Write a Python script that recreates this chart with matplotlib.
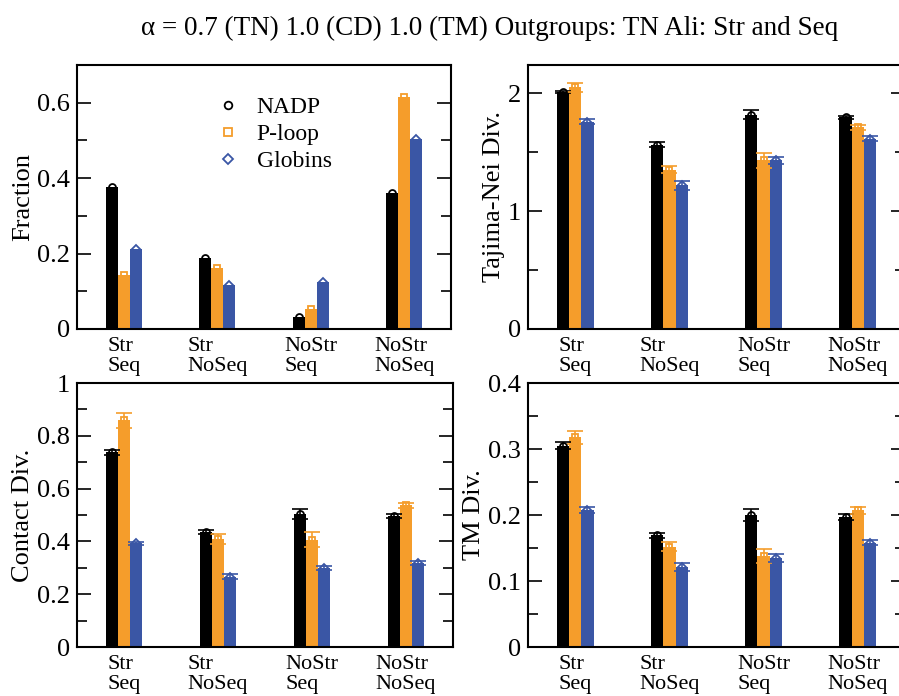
import matplotlib
matplotlib.use("Agg")
import matplotlib.pyplot as plt
import numpy as np
from matplotlib.ticker import MultipleLocator

plt.rcParams['font.family'] = ['Liberation Serif', 'DejaVu Serif']
plt.rcParams['mathtext.fontset'] = 'stix'

categories = ["Str\nSeq", "Str\nNoSeq", "NoStr\nSeq", "NoStr\nNoSeq"]
series = ["NADP", "P-loop", "Globins"]
colors = ["#000000", "#F59D2B", "#3A56A5"]
markers = ["o", "s", "D"]

# Fraction
frac_nadp = [0.376, 0.188, 0.032, 0.360]
frac_ploop = [0.143, 0.161, 0.052, 0.616]
frac_glob = [0.212, 0.117, 0.125, 0.505]

# Tajima-Nei Div.
tn_nadp = [2.01, 1.565, 1.82, 1.795]
tn_nadp_err = [0.01, 0.02, 0.04, 0.015]
tn_ploop = [2.05, 1.35, 1.43, 1.71]
tn_ploop_err = [0.04, 0.03, 0.06, 0.025]
tn_glob = [1.76, 1.22, 1.43, 1.615]
tn_glob_err = [0.02, 0.04, 0.03, 0.02]

# Contact Div.
cd_nadp = [0.737, 0.435, 0.504, 0.497]
cd_nadp_err = [0.011, 0.007, 0.018, 0.007]
cd_ploop = [0.858, 0.41, 0.407, 0.536]
cd_ploop_err = [0.03, 0.018, 0.027, 0.011]
cd_glob = [0.393, 0.267, 0.30, 0.318]
cd_glob_err = [0.006, 0.01, 0.008, 0.007]

# TM Div.
tm_nadp = [0.305, 0.169, 0.2005, 0.197]
tm_nadp_err = [0.005, 0.004, 0.009, 0.004]
tm_ploop = [0.318, 0.152, 0.138, 0.207]
tm_ploop_err = [0.01, 0.007, 0.011, 0.0055]
tm_glob = [0.2075, 0.1215, 0.135, 0.158]
tm_glob_err = [0.004, 0.006, 0.006, 0.004]

title = "α = 0.7 (TN) 1.0 (CD) 1.0 (TM) Outgroups: TN Ali: Str and Seq"

W, H = 899, 696
fig = plt.figure(figsize=(W / 100, H / 100), dpi=100)

def ax_rect(x0, x1, ytop, ybot):
    return [x0 / W, 1 - ybot / H, (x1 - x0) / W, (ybot - ytop) / H]

panels = [
    dict(rect=ax_rect(77, 451, 65, 329), ylabel="Fraction", ylim=(0, 0.7), major=0.2, minor=0.1,
         vals=[frac_nadp, frac_ploop, frac_glob], errs=None, fmt=lambda v: "0" if v == 0 else f"{v:.1f}"),
    dict(rect=ax_rect(528, 905, 65, 329), ylabel="Tajima-Nei Div.", ylim=(0, 2.24), major=1, minor=0.5,
         vals=[tn_nadp, tn_ploop, tn_glob], errs=[tn_nadp_err, tn_ploop_err, tn_glob_err],
         fmt=lambda v: f"{v:.0f}"),
    dict(rect=ax_rect(77, 453, 383, 647), ylabel="Contact Div.", ylim=(0, 1.0), major=0.2, minor=0.1,
         vals=[cd_nadp, cd_ploop, cd_glob], errs=[cd_nadp_err, cd_ploop_err, cd_glob_err],
         fmt=lambda v: "0" if v == 0 else ("1" if abs(v - 1) < 1e-9 else f"{v:.1f}")),
    dict(rect=ax_rect(528, 905, 383, 647), ylabel="TM Div.", ylim=(0, 0.4), major=0.1, minor=0.05,
         vals=[tm_nadp, tm_ploop, tm_glob], errs=[tm_nadp_err, tm_ploop_err, tm_glob_err],
         fmt=lambda v: "0" if v == 0 else f"{v:.1f}"),
]

x = np.arange(1, len(categories) + 1)
bw = 0.13
for i, p in enumerate(panels):
    ax = fig.add_axes(p["rect"])
    for k in range(3):
        xs = x + (k - 1) * bw
        ax.bar(xs, p["vals"][k], width=bw, color=colors[k], zorder=2)
        if p["errs"] is not None:
            ax.errorbar(xs, p["vals"][k], yerr=p["errs"][k], fmt="none", ecolor=colors[k],
                        elinewidth=1.2, capsize=5.5, capthick=1.2, zorder=3)
        ax.plot(xs, p["vals"][k], linestyle="none", marker=markers[k],
                markersize=5 if markers[k] != "D" else 4.2, markerfacecolor="none",
                markeredgecolor=colors[k], markeredgewidth=1.3, zorder=4,
                label=series[k])
    ax.set_xlim(0.5, 4.5)
    ax.set_ylim(*p["ylim"])
    ax.set_xticks(x)
    ax.set_xticklabels(categories, fontsize=16, multialignment="left", linespacing=1.05)
    ax.yaxis.set_minor_locator(MultipleLocator(p["minor"]))
    ticks = np.arange(0, p["ylim"][1] + 1e-9, p["major"])
    ax.set_yticks(ticks)
    ax.set_yticklabels([p["fmt"](round(t, 3)) for t in ticks], fontsize=19)
    ax.tick_params(axis="x", length=0, pad=6)
    ax.tick_params(axis="y", which="major", direction="in", length=10, width=1.2, right=True, pad=5)
    ax.tick_params(axis="y", which="minor", direction="in", length=7, width=1.2, right=True)
    for s in ax.spines.values():
        s.set_linewidth(1.5)
    ax.set_ylabel(p["ylabel"], fontsize=19, labelpad=2)
    if i == 0:
        ax.legend(loc="upper left", bbox_to_anchor=(0.31, 0.96), frameon=False, fontsize=17,
                  handletextpad=0.6, labelspacing=0.22, handlelength=1.2, markerscale=1.1)

fig.text(490 / W, 1 - 28 / H, title, ha="center", va="center", fontsize=19.5)
fig.savefig("out.png", dpi=100)
